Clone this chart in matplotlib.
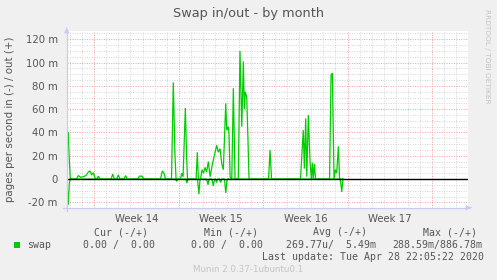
import matplotlib
matplotlib.use('Agg')
import matplotlib.pyplot as plt
import numpy as np

W, H, DPI = 497, 280, 100

# ---- data: days since Mon 30 Mar 2020 00:00 (start of Week 14); values in milli pages/s
out_days = [-2.25, -2.16, -2.07, -1.99,
            -1.48, -1.33, -1.13, -0.91, -0.69, -0.50, -0.36, -0.22, -0.08, 0.06, 0.20, 0.33, 0.47,
            1.39, 1.53, 1.66, 1.86, 1.99, 2.13, 2.46, 2.60, 2.74,
            3.58, 3.75, 3.96, 4.12,
            5.49, 5.64, 5.78, 5.91,
            6.40, 6.55, 6.69, 6.78,
            7.15, 7.25, 7.36, 7.55, 7.65, 7.73,
            8.44, 8.54, 8.63,
            8.81, 8.93, 9.06, 9.18, 9.31, 9.46, 9.60, 9.79, 9.95, 10.15, 10.28, 10.43, 10.57,
            10.70, 10.90, 10.98, 11.11, 11.17, 11.26, 11.40, 11.53, 11.67, 11.94, 12.08, 12.23,
            12.36, 12.44, 12.52, 12.64, 12.72, 12.83,
            14.45, 14.57, 14.70,
            17.10, 17.33, 17.42, 17.53, 17.62, 17.75, 17.89, 18.00, 18.08, 18.16, 18.25, 18.35,
            19.51, 19.63, 19.74, 19.88, 19.99, 20.10, 20.24, 20.34, 20.61]
out_vals = [38, 40, 15, 0,
            0, 3, 1.5, 2, 3, 6, 7, 3.5, 5.5, 1, 0, 2.5, 0,
            0, 4.3, 0, 0, 3.5, 0, 0, 3, 0,
            0, 2.5, 2.5, 0,
            0, 7, 5, 0,
            0, 83, 20, 0,
            0, 5, 2, 61, 20, 0,
            0, 23, 0,
            0, 8, 5, 10, 6, 15, 2, 12.6, 20, 29, 23, 26, 13,
            8, 65, 42, 45, 39, 2, 0, 78, 0, 0, 110, 45,
            101, 60, 75, 70, 42, 0,
            0, 25, 0,
            0, 42, 9, 52, 2, 55, 15, 0, 14, 0, 13, 0,
            0, 89, 91, 0, 8, 5, 28, 0, 0]

in_days = [-2.26, -2.16, -2.07, -1.99,
           6.74, 6.83, 6.94,
           7.61, 7.67, 7.77,
           8.56, 8.67, 8.77,
           9.31, 9.43, 9.51,
           9.76, 9.87, 9.97,
           10.05, 10.14, 10.22,
           10.38, 10.47, 10.55,
           10.80, 10.90, 11.01,
           20.40, 20.52, 20.61]
in_vals = [4, 22, 3, 0,
           0, 2, 0,
           0, 3.5, 0,
           0, 13, 0,
           0, 5, 0,
           0, 6, 0,
           0, 3, 0,
           0, 3, 0,
           0, 12, 0,
           0, 11, 0]

week_labels = ['Week 14', 'Week 15', 'Week 16', 'Week 17']
week_label_pos = [3.5, 10.5, 17.5, 24.5]
week_starts = [0, 7, 14, 21, 28]
ytick_vals = [-20, 0, 20, 40, 60, 80, 100, 120]
ytick_labels = ['-20 m', '0', '20 m', '40 m', '60 m', '80 m', '100 m', '120 m']

legend_headers = ['Cur (-/+)', 'Min (-/+)', 'Avg (-/+)', 'Max (-/+)']
legend_values = ['0.00 /  0.00', '0.00 /  0.00', '269.77u/  5.49m', '288.59m/886.78m']
series_name = 'swap'
last_update = 'Last update: Tue Apr 28 22:05:22 2020'

GREEN = '#00CC00'
BG = '#F0F0F0'
TXT = '#555555'
AXC = '#C8CCF4'

def fx(x):
    return x / W

def fy(y):
    return 1 - y / H

fig = plt.figure(figsize=(W / DPI, H / DPI), dpi=DPI, facecolor=BG)
L, R, T, B = 66.7, 468.0, 31.0, 207.7
ax = fig.add_axes([fx(L), fy(B), (R - L) / W, (B - T) / H])
ax.set_facecolor('white')
ax.set_xlim(-2.29, 30.99)
ax.set_ylim(-24.6, 127.1)
for s in ax.spines.values():
    s.set_visible(False)

# grid
for yv in np.arange(-20, 126, 5):
    if yv % 20 == 0:
        continue
    ax.axhline(yv, color='#D4D4D4', lw=0.7, ls=(0, (1, 1.5)), zorder=1)
for xv in np.arange(-2, 31, 1):
    if xv % 7 == 0:
        continue
    ax.axvline(xv, color='#D4D4D4', lw=0.7, ls=(0, (1, 1.5)), zorder=1)
for yv in [-20, 20, 40, 60, 80, 100, 120]:
    ax.axhline(yv, color='#F0A0A0', lw=0.7, ls=(0, (1, 1.5)), zorder=2)
for xv in week_starts:
    ax.axvline(xv, color='#F0A0A0', lw=0.7, ls=(0, (1, 1.5)), zorder=2)

# series
ax.plot(out_days, out_vals, color=GREEN, lw=0.9, zorder=4, solid_joinstyle='miter')
ax.plot(in_days, [-v for v in in_vals], color=GREEN, lw=0.9, zorder=4, solid_joinstyle='miter')
ax.axhline(0, color='black', lw=1.0, zorder=5)

# ticks
ax.set_yticks(ytick_vals)
ax.set_yticklabels(ytick_labels)
ax.set_xticks(week_label_pos)
ax.set_xticklabels(week_labels)
ax.tick_params(axis='both', length=0, labelsize=7.3, labelcolor=TXT)
ax.tick_params(axis='y', pad=6.5)
ax.tick_params(axis='x', pad=4.5)

# axes lines with arrows
fig.add_artist(plt.Line2D([fx(L), fx(L)], [fy(211), fy(30)], color=AXC, lw=0.9))
fig.add_artist(plt.Line2D([fx(63), fx(469)], [fy(B), fy(B)], color=AXC, lw=0.9))
ax.annotate('', xy=(fx(L), fy(25)), xytext=(fx(L), fy(31)), xycoords='figure fraction',
            arrowprops=dict(arrowstyle='-|>', color=AXC, lw=0.8, mutation_scale=7))
ax.annotate('', xy=(fx(474), fy(B)), xytext=(fx(468), fy(B)), xycoords='figure fraction',
            arrowprops=dict(arrowstyle='-|>', color=AXC, lw=0.8, mutation_scale=7))

# texts
fig.text(fx(248.5), fy(13.5), 'Swap in/out - by month', ha='center', va='center',
         fontsize=9.3, color=TXT)
fig.text(fx(10), fy(119), 'pages per second in (-) / out (+)', ha='center', va='center',
         rotation=90, fontsize=7.4, color=TXT)
fig.text(fx(487.5), fy(56), 'RRDTOOL / TOBI OETIKER', ha='center', va='center',
         rotation=270, fontsize=5.3, color='#C4C4C4')

MONO = 'DejaVu Sans Mono'
FS = 7.15
for x, t in zip([94.3, 204.0, 313.3, 423.3], legend_headers):
    fig.text(fx(x), fy(232.3), t, ha='left', va='center', family=MONO, fontsize=FS, color=TXT)
fig.add_artist(plt.Rectangle((fx(14), fy(248)), 6 / W, 6 / H, color=GREEN, lw=0))
fig.text(fx(26.7), fy(244.7), series_name, ha='left', va='center', family=MONO, fontsize=FS, color=TXT)
for x, t in zip([83.3, 190.7, 285.7, 392.7], legend_values):
    fig.text(fx(x), fy(244.7), t, ha='left', va='center', family=MONO, fontsize=FS, color=TXT)
fig.text(fx(261.7), fy(256.7), last_update, ha='left', va='center', family=MONO, fontsize=FS, color=TXT)
fig.text(fx(248), fy(269), 'Munin 2.0.37-1ubuntu0.1', ha='center', va='center',
         fontsize=6.3, color='#C4C4C4')

fig.savefig('out.png', dpi=DPI, facecolor=BG)
